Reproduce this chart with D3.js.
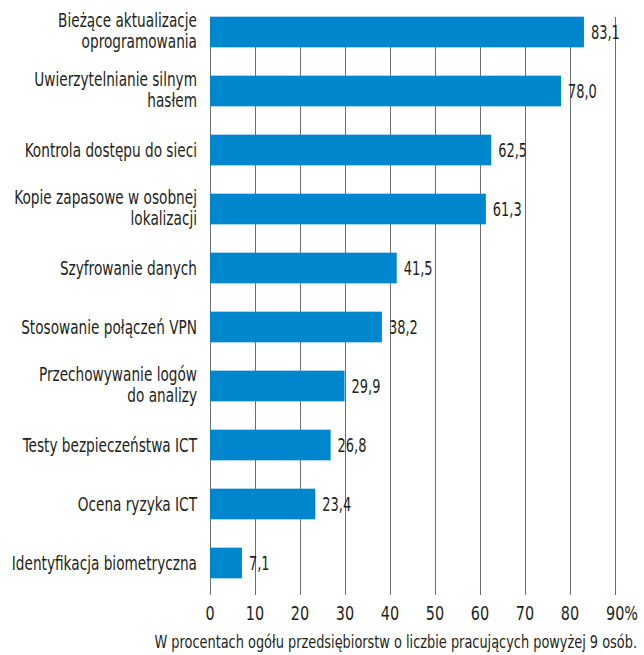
<!DOCTYPE html>
<html>
<head>
<meta charset="utf-8">
<script src="https://cdn.jsdelivr.net/npm/d3@7"></script>
<style>
  body { margin: 0; background: #fff; }
  text { font-family: "DejaVu Sans Condensed", "DejaVu Sans", sans-serif; font-stretch: condensed; fill: #231f20; }
</style>
</head>
<body>
<svg width="644" height="655"></svg>
<script>
var categories = [
  ["Bieżące aktualizacje", "oprogramowania"],
  ["Uwierzytelnianie silnym", "hasłem"],
  ["Kontrola dostępu do sieci"],
  ["Kopie zapasowe w osobnej", "lokalizacji"],
  ["Szyfrowanie danych"],
  ["Stosowanie połączeń VPN"],
  ["Przechowywanie logów", "do analizy"],
  ["Testy bezpieczeństwa ICT"],
  ["Ocena ryzyka ICT"],
  ["Identyfikacja biometryczna"]
];
var values = [83.1, 78.0, 62.5, 61.3, 41.5, 38.2, 29.9, 26.8, 23.4, 7.1];
var ticks = [0, 10, 20, 30, 40, 50, 60, 70, 80, 90];
var axisTitle = "W procentach ogółu przedsiębiorstw o liczbie pracujących powyżej 9 osób.";

var svg = d3.select("svg");
var x = d3.scaleLinear().domain([0, 90]).range([210, 615]);
var y = d3.scaleBand()
    .domain(d3.range(values.length))
    .range([2.5, 592.5])
    .paddingInner(0.48)
    .paddingOuter(0.24);

var fmt = function(v) { return v.toFixed(1).replace(".", ","); };
var narrow = 0.76;

// gridlines
svg.append("g").selectAll("line")
    .data(ticks)
    .enter().append("line")
    .attr("x1", function(d) { return Math.round(x(d)) + 0.5; })
    .attr("x2", function(d) { return Math.round(x(d)) + 0.5; })
    .attr("y1", 17)
    .attr("y2", 595)
    .attr("stroke", "#6d6e71")
    .attr("stroke-width", 1);

// bars
svg.append("g").selectAll("rect")
    .data(values)
    .enter().append("rect")
    .attr("x", x(0))
    .attr("y", function(d, i) { return y(i); })
    .attr("width", function(d) { return x(d) - x(0); })
    .attr("height", y.bandwidth())
    .attr("fill", "#0086cd");

// value labels
svg.append("g").selectAll("text")
    .data(values)
    .enter().append("text")
    .attr("transform", function(d, i) {
        return "translate(" + (x(d) + 7) + "," + (y(i) + y.bandwidth() / 2) + ") scale(0.74,1)";
    })
    .attr("dy", "0.36em")
    .style("font-size", "19.5px")
    .text(fmt);

// category labels
var cat = svg.append("g").selectAll("text")
    .data(categories)
    .enter().append("text")
    .attr("text-anchor", "end")
    .style("font-size", "20px")
    .attr("transform", function(d, i) {
        return "translate(197," + (y(i) + y.bandwidth() / 2) + ") scale(" + narrow + ",1)";
    });
cat.selectAll("tspan")
    .data(function(d) { return d.map(function(s, k) { return {s: s, k: k, n: d.length}; }); })
    .enter().append("tspan")
    .attr("x", 0)
    .attr("dy", function(t) { return t.k === 0 ? (t.n === 1 ? "0.36em" : "-0.27em") : "1.05em"; })
    .text(function(t) { return t.s; });

// tick labels
svg.append("g").selectAll("text")
    .data(ticks)
    .enter().append("text")
    .attr("transform", function(d) {
        return "translate(" + (d === 90 ? x(d) - 9 : x(d)) + ",620) scale(0.8,1)";
    })
    .attr("text-anchor", function(d) { return d === 90 ? "start" : "middle"; })
    .style("font-size", "20px")
    .text(function(d) { return d === 90 ? d + "%" : d; });

svg.append("text")
    .attr("transform", "translate(637,648) scale(0.845,1)")
    .attr("text-anchor", "end")
    .style("font-size", "17px")
    .text(axisTitle);
</script>
</body>
</html>
